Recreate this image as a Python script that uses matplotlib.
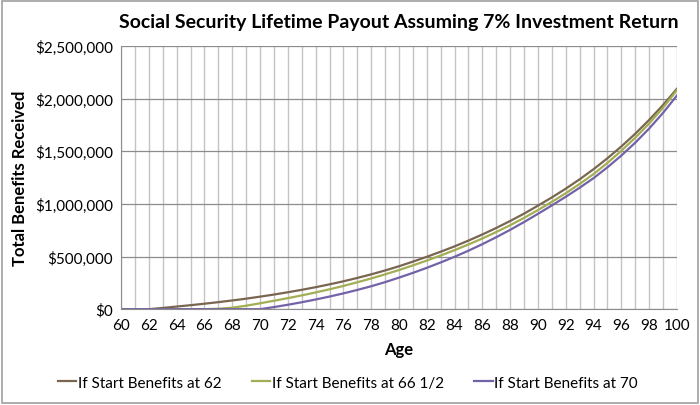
import numpy as np
import matplotlib.pyplot as plt
from matplotlib.patches import Rectangle
from matplotlib.ticker import FuncFormatter

plt.rcParams['font.family'] = ['Lato', 'DejaVu Sans']

# ages 60..100, values in $
ages = list(range(60, 101))

start_62 = [0, 0, 0, 12000, 25000, 38000, 52000, 67000, 83000, 100000,
            119000, 139000, 161000, 184000, 209000, 236000, 265000, 297000, 331000, 368000,
            408000, 452000, 498000, 546000, 597000, 652000, 710000, 772000, 838000, 908000,
            984000, 1062000, 1145000, 1234000, 1330000, 1434000, 1546000, 1667000, 1798000, 1940000,
            2094000]

start_665 = [0, 0, 0, 0, 0, 0, 0, 4000, 14000, 33000,
             56000, 80000, 105000, 131000, 159000, 189000, 221000, 256000, 292000, 331000,
             372000, 416000, 462000, 510000, 561000, 615000, 672000, 733000, 798000, 868000,
             942000, 1020000, 1102000, 1190000, 1284000, 1390000, 1505000, 1629000, 1764000, 1914000,
             2080000]

start_70 = [0, 0, 0, 0, 0, 0, 0, 0, 0, 0,
            0, 20000, 42000, 66000, 92000, 120000, 150000, 183000, 218000, 257000,
            300000, 345000, 393000, 444000, 498000, 556000, 618000, 684000, 754000, 828000,
            906000, 986000, 1068000, 1154000, 1245000, 1348000, 1460000, 1582000, 1716000, 1865000,
            2030000]

labels = ['If Start Benefits at 62', 'If Start Benefits at 66 1/2', 'If Start Benefits at 70']
colors = ['#7a6650', '#a3ae52', '#7462a8']

fig = plt.figure(figsize=(7, 4.06), dpi=100)
ax = fig.add_axes([0.173, 0.236, 0.794, 0.648])

for series, lab, c in zip([start_62, start_665, start_70], labels, colors):
    ax.plot(ages, series, color=c, lw=1.6, label=lab)

ax.set_xlim(60, 100)
ax.set_ylim(0, 2500000)
ax.set_xticks(ages)
ax.set_xticklabels([str(a) if a % 2 == 0 else '' for a in ages])
ax.set_yticks(np.arange(0, 2500001, 500000))
ax.yaxis.set_major_formatter(FuncFormatter(lambda v, p: '${:,.0f}'.format(v)))
ax.tick_params(length=0, labelsize=11, pad=6)

ax.grid(axis='x', color='#c4c4c4', lw=1)
ax.grid(axis='y', color='#8c8c8c', lw=0.9)
ax.set_axisbelow(True)
for s in ['top', 'right']:
    ax.spines[s].set_visible(False)
for s in ['left', 'bottom']:
    ax.spines[s].set_color('#8c8c8c')

ax.set_title('Social Security Lifetime Payout Assuming 7% Investment Return',
             fontsize=14, fontweight='bold', pad=14)
ax.set_xlabel('Age', fontsize=12, fontweight='bold', labelpad=7)
ax.set_ylabel('Total Benefits Received', fontsize=12, fontweight='bold', labelpad=5)

fig.legend(loc='center', bbox_to_anchor=(0.497, 0.055), ncol=3, frameon=False,
           fontsize=11, handlelength=1.2, handletextpad=0.1, columnspacing=2.0)

fig.patches.append(Rectangle((0.003, 0.004), 0.994, 0.992, transform=fig.transFigure,
                             fill=False, edgecolor='#a0a0a0', lw=1.2))

fig.savefig('out.png', dpi=100)
